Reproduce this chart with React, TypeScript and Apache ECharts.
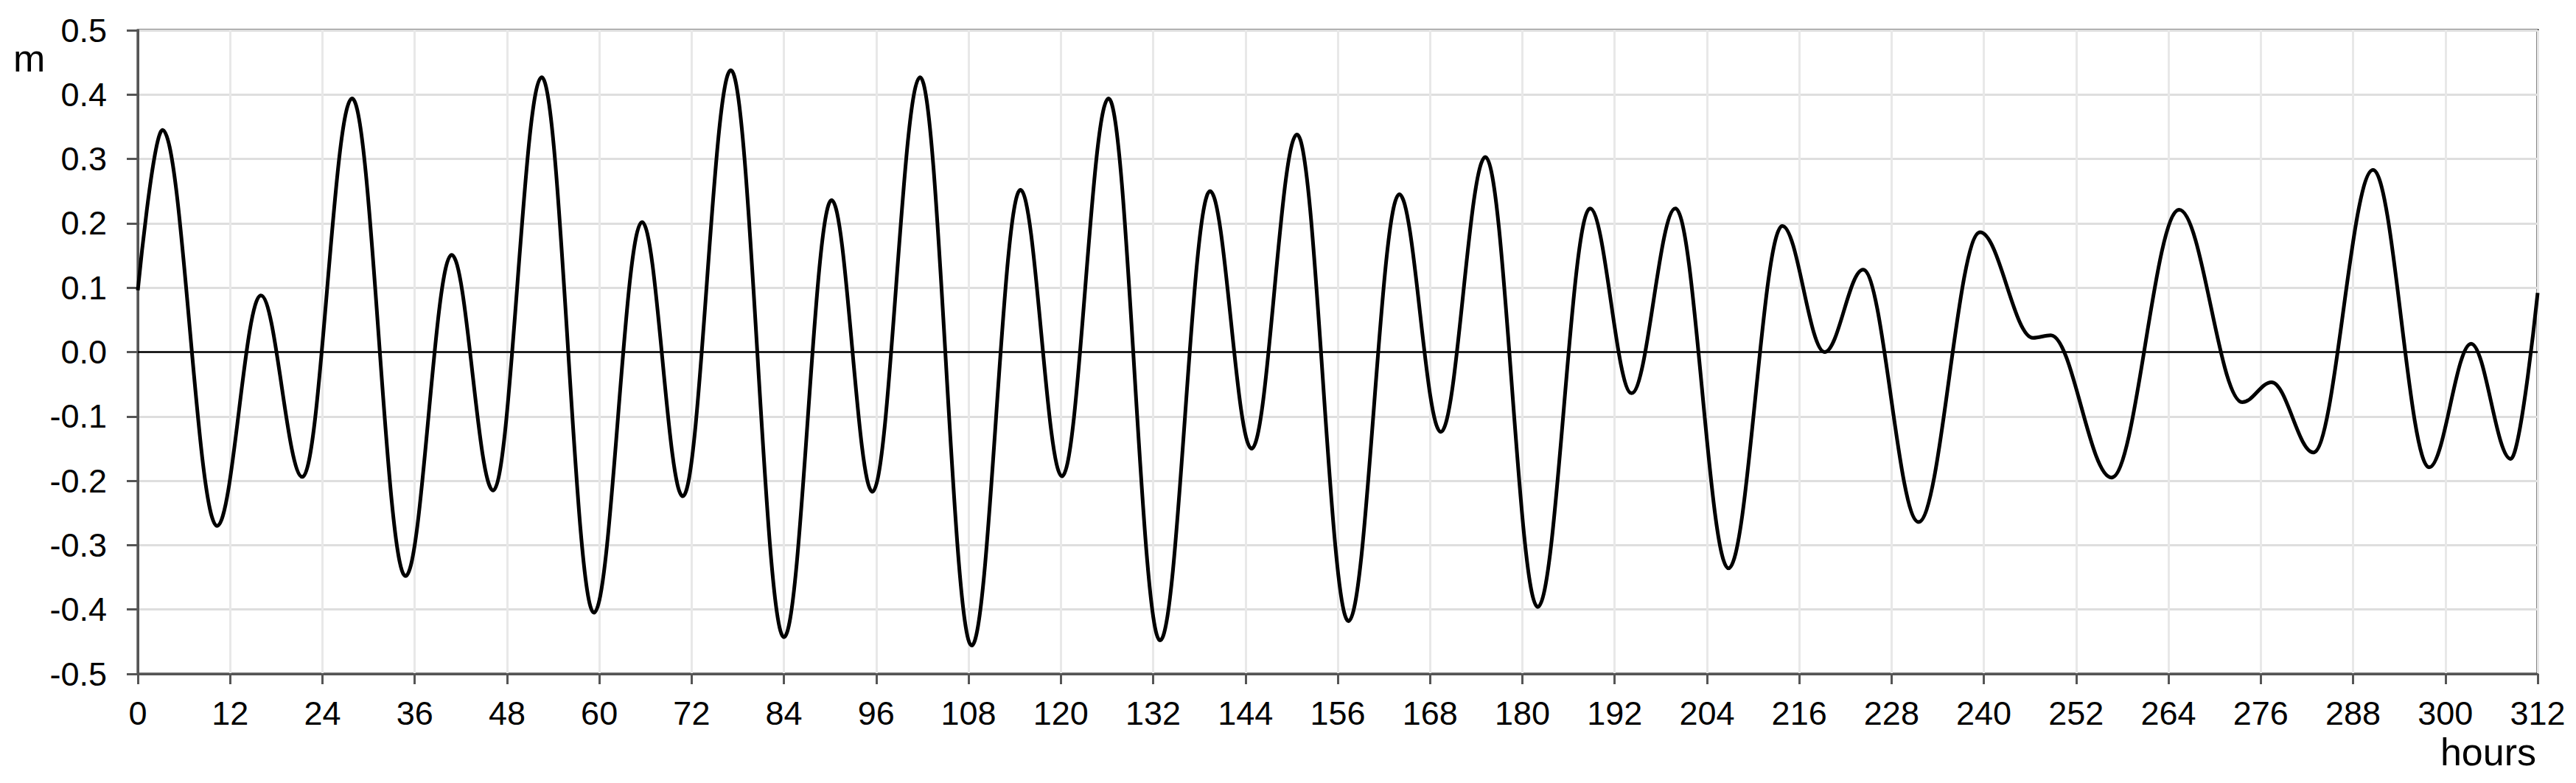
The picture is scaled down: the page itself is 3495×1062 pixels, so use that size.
import React, { useEffect, useRef } from "react";
import * as echarts from "echarts";

// Hours at which the curve turns, plus the two ends
const hours: number[] = [
  0, 3.2, 10.3, 16.0, 21.4, 27.85, 34.8, 40.8, 46.2, 52.5, 59.3, 65.55, 70.85, 77.1,
  84.0, 90.2, 95.5, 101.7, 108.4, 114.75, 120.15, 126.2, 132.9, 139.4, 144.8, 150.7,
  157.4, 164.0, 169.4, 175.2, 182.0, 188.8, 194.2, 199.9, 206.8, 213.8, 219.3, 224.3,
  231.5, 239.5, 246.4, 248.7, 256.6, 265.4, 273.6, 277.4, 282.85, 290.6, 297.9, 303.35,
  308.5, 312,
];

// Water level in metres at those hours
const levels: number[] = [
  0.096, 0.345, -0.27, 0.088, -0.194, 0.394, -0.348, 0.151, -0.215, 0.427, -0.405, 0.202,
  -0.224, 0.438, -0.443, 0.236, -0.217, 0.427, -0.456, 0.252, -0.193, 0.394, -0.448, 0.25,
  -0.15, 0.338, -0.418, 0.245, -0.124, 0.303, -0.396, 0.223, -0.064, 0.223, -0.336, 0.196,
  0.0, 0.128, -0.264, 0.186, 0.022, 0.026, -0.195, 0.221, -0.078, -0.047, -0.156, 0.283,
  -0.179, 0.013, -0.166, 0.092,
];

const xTickStep = 12;
const xMin = 0;
const xMax = 312;
const yMin = -0.5;
const yMax = 0.5;
const yTickStep = 0.1;
const yUnit = "m";
const xUnit = "hours";

const FONT = "'Liberation Sans', Arial, sans-serif";

export default function App() {
  const ref = useRef<HTMLDivElement>(null);

  useEffect(() => {
    document.body.style.margin = "0";
    if (!ref.current) return;
    const chart = echarts.init(ref.current, undefined, { renderer: "svg" });
    const data = hours.map((h, i) => [h, levels[i]]);

    chart.setOption({
      animation: false,
      backgroundColor: "#ffffff",
      grid: {
        left: 187,
        right: 52,
        top: 41,
        bottom: 148,
        show: true,
        borderColor: "#111111",
        borderWidth: 3,
        backgroundColor: "transparent",
      },
      xAxis: {
        type: "value",
        min: xMin,
        max: xMax,
        interval: xTickStep,
        axisLine: { show: true, onZero: false, lineStyle: { color: "#555555", width: 3 } },
        axisTick: { show: true, inside: false, length: 14, lineStyle: { color: "#555555", width: 3 } },
        axisLabel: {
          margin: 31,
          fontSize: 45,
          fontFamily: FONT,
          color: "#000000",
        },
        splitLine: { show: true, lineStyle: { color: "#e8e8e8", width: 3 } },
      },
      yAxis: {
        type: "value",
        min: yMin,
        max: yMax,
        interval: yTickStep,
        axisLine: { show: true, onZero: false, lineStyle: { color: "#555555", width: 3 } },
        axisTick: { show: true, inside: false, length: 15, lineStyle: { color: "#555555", width: 3 } },
        axisLabel: {
          margin: 42,
          fontSize: 45,
          fontFamily: FONT,
          color: "#000000",
          formatter: (v: number) => (Math.abs(v) < 1e-9 ? "0.0" : v.toFixed(1)),
        },
        splitLine: { show: true, lineStyle: { color: "#dedede", width: 3 } },
      },
      graphic: [
        {
          type: "text",
          left: 18,
          top: 53,
          style: { text: yUnit, font: `52px ${FONT}`, fill: "#000000" },
        },
        {
          type: "text",
          right: 3495 - 3441,
          top: 994,
          style: { text: xUnit, font: `52px ${FONT}`, fill: "#000000" },
        },
      ],
      series: [
        {
          type: "line",
          data,
          symbol: "none",
          smooth: 0.36,
          smoothMonotone: "x",
          lineStyle: { color: "#000000", width: 5 },
          z: 3,
          markLine: {
            silent: true,
            symbol: ["none", "none"],
            label: { show: false },
            lineStyle: { color: "#000000", width: 2.5, type: "solid" },
            data: [{ yAxis: 0 }],
          },
        },
      ],
    });

    return () => chart.dispose();
  }, []);

  return <div ref={ref} style={{ width: 3495, height: 1062 }} />;
}
